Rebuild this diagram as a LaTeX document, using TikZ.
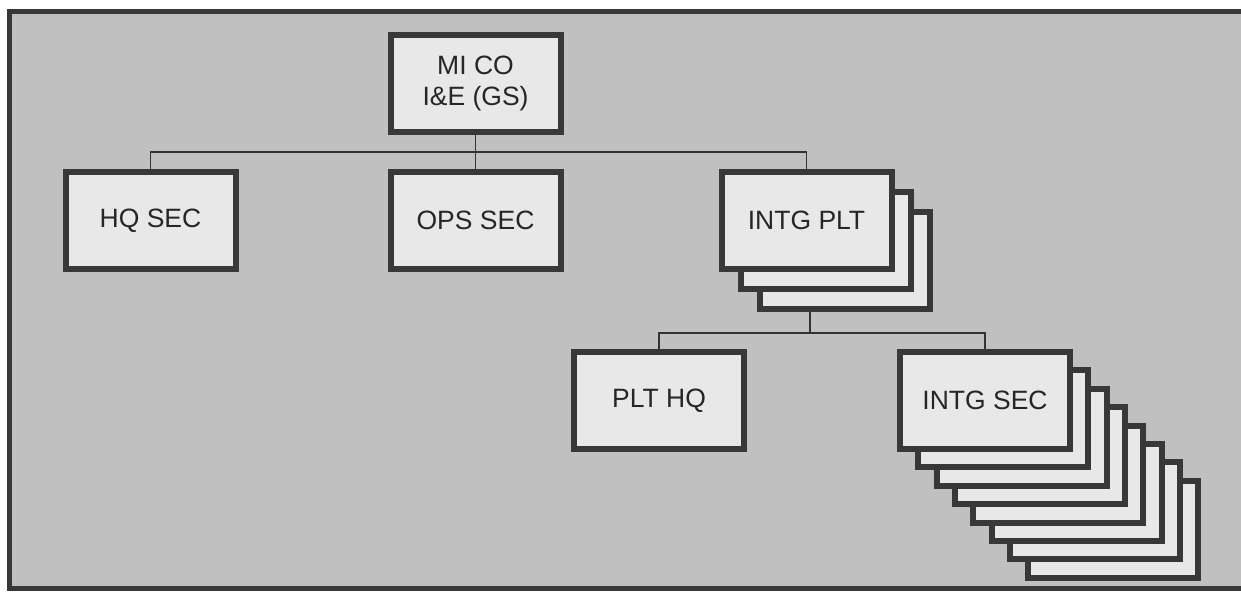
\documentclass[tikz,border=0pt]{standalone}
\usepackage{fontspec}
\setmainfont{Liberation Sans}
\definecolor{bgc}{HTML}{C0C0C0}
\definecolor{boxc}{HTML}{E8E8E8}
\definecolor{edgec}{HTML}{383838}
\tikzset{
  unitbox/.style={draw=edgec, line width=6pt, fill=boxc, minimum width=170pt,
    minimum height=97pt, inner sep=0pt, font=\fontsize{26.5}{31}\selectfont,
    text=black!85, align=center},
  link/.style={draw=black!80, line width=1.3pt},
  frame/.style={draw=edgec, line width=5pt, fill=bgc}
}
\begin{document}
\begin{tikzpicture}[x=1pt,y=-1pt]
\useasboundingbox (0,0) rectangle (1241,593);
\clip (0,0) rectangle (1241,593);
\fill[white] (0,0) rectangle (1241,593);
\draw[frame] (9.5,11.5) rectangle (1270,588.5);
% top
\node[unitbox] (mico) at (475.5,83.5) {MI CO\\I\&E (GS)};
% second level
\node[unitbox] (hq) at (150.5,220.5) {HQ SEC};
\node[unitbox] (ops) at (475.5,220.5) {OPS SEC};
\node[unitbox] (plt3) at (844.5,260.5) {};
\node[unitbox] (plt2) at (825.5,240.5) {};
\node[unitbox] (plt) at (806.5,220.5) {INTG PLT};
% third level
\node[unitbox] (plthq) at (659,400.5) {PLT HQ};
\foreach \k in {7,6,5,4,3,2,1} {
  \node[unitbox] (sec\k) at ({985+18.3*\k},{400.5+18.4*\k}) {};
}
\node[unitbox] (sec) at (985,400.5) {INTG SEC};
% connectors
\coordinate (j1) at (475.5,152);
\coordinate (j2) at (810,333);
\draw[link] (mico.south) -- (j1);
\draw[link] (hq.north) |- (j1) -| (plt.north);
\draw[link] (j1) -- (ops.north);
\draw[link] (plt3.south -| j2) -- (j2);
\draw[link] (plthq.north) |- (j2) -| (sec.north);
\end{tikzpicture}
\end{document}
